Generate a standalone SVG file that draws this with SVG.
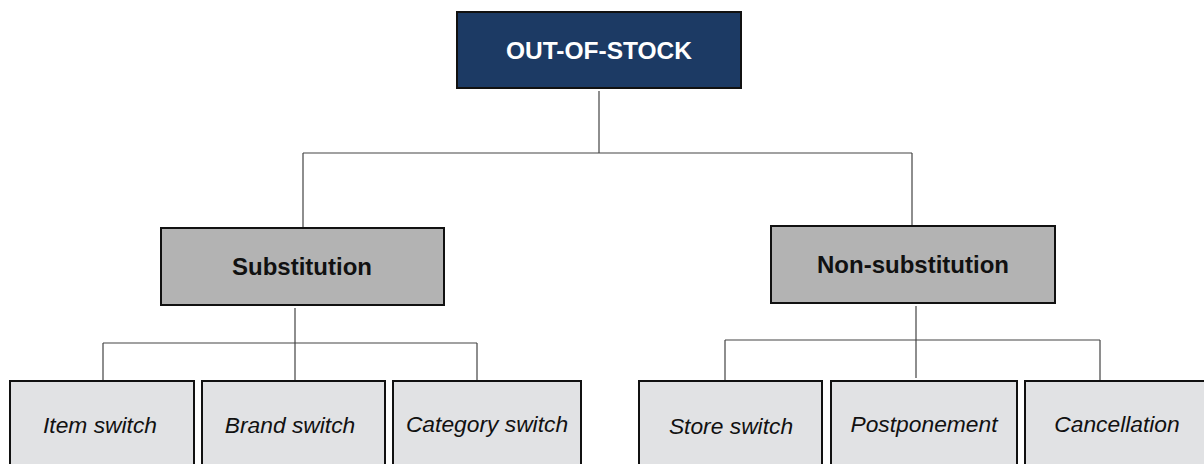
<svg xmlns="http://www.w3.org/2000/svg" width="1204" height="464" viewBox="0 0 1204 464">
  <style>
    .box { stroke: #111; stroke-width: 2; }
    .root { fill: #1c3a64; }
    .mid { fill: #b3b3b3; }
    .leaf { fill: #e1e2e4; }
    .wire { fill: none; stroke: #444; stroke-width: 1.2; }
    text { font-family: "Liberation Sans", Arial, sans-serif; text-anchor: middle; }
    .t-root { fill: #fff; font-weight: bold; font-size: 24.5px; }
    .t-mid { fill: #111; font-weight: bold; font-size: 24px; }
    .t-leaf { fill: #111; font-style: italic; font-size: 22.8px; }
  </style>

  <g id="connectors">
    <path class="wire" d="M599 91 V153 M303 153 H912 M303 153 V228 M912 153 V226"/>
    <path class="wire" d="M295 308 V381 M103 343 H477 M103 343 V381 M477 343 V381"/>
    <path class="wire" d="M916 306 V378 M725 340 H1100 M725 340 V381 M1100 340 V381"/>
  </g>

  <g id="out-of-stock">
    <rect class="box root" x="457" y="12" width="284" height="76"/>
    <text class="t-root" x="599" y="59">OUT-OF-STOCK</text>
  </g>

  <g id="substitution">
    <rect class="box mid" x="161" y="228" width="283" height="77"/>
    <text class="t-mid" x="302" y="275">Substitution</text>
  </g>

  <g id="non-substitution">
    <rect class="box mid" x="771" y="226" width="284" height="77"/>
    <text class="t-mid" x="913" y="273">Non-substitution</text>
  </g>

  <g id="item-switch">
    <rect class="box leaf" x="10" y="381" width="184" height="95"/>
    <text class="t-leaf" x="100" y="433">Item switch</text>
  </g>

  <g id="brand-switch">
    <rect class="box leaf" x="202" y="381" width="183" height="95"/>
    <text class="t-leaf" x="290" y="433">Brand switch</text>
  </g>

  <g id="category-switch">
    <rect class="box leaf" x="393" y="381" width="188" height="95"/>
    <text class="t-leaf" x="487" y="432">Category switch</text>
  </g>

  <g id="store-switch">
    <rect class="box leaf" x="639" y="381" width="183" height="95"/>
    <text class="t-leaf" x="731" y="434">Store switch</text>
  </g>

  <g id="postponement">
    <rect class="box leaf" x="831" y="381" width="186" height="95"/>
    <text class="t-leaf" x="924" y="432">Postponement</text>
  </g>

  <g id="cancellation">
    <rect class="box leaf" x="1025" y="381" width="186" height="95"/>
    <text class="t-leaf" x="1117" y="432">Cancellation</text>
  </g>
</svg>
